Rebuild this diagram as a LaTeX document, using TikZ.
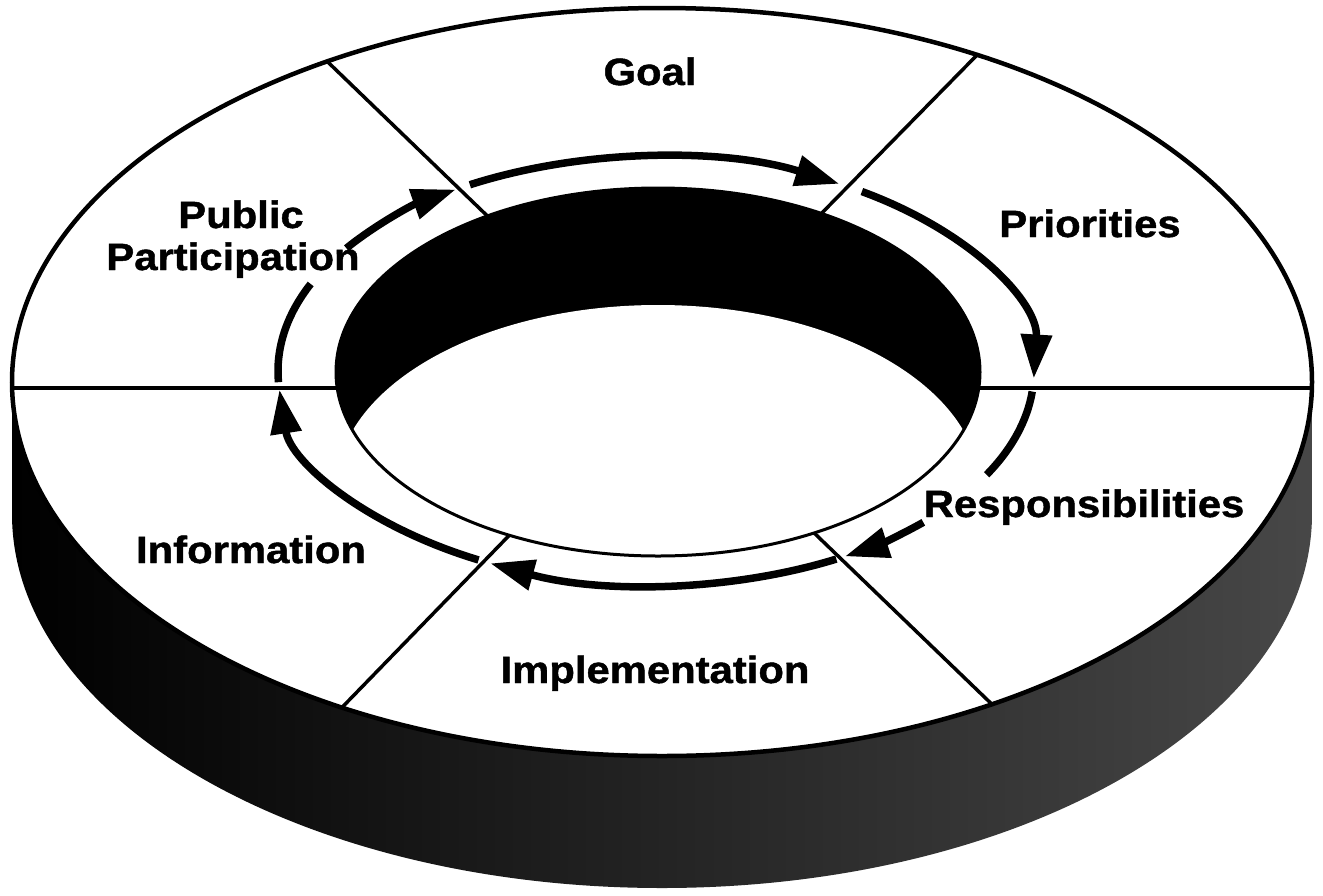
\documentclass[tikz,border=0pt]{standalone}
\usepackage{fontspec}
\newfontfamily\labfont[FakeStretch=1.1,FakeBold=1.2]{Liberation Sans}
\usetikzlibrary{arrows.meta}
\begin{document}
\begin{tikzpicture}[x=1pt,y=-1pt,
  lab/.style={font=\labfont\bfseries\fontsize{38}{42}\selectfont, inner sep=0pt, anchor=base},
  rim/.style={line width=4.5pt},
  divider/.style={line width=3.5pt},
  flow/.style={line width=7.5pt},
  flowhead/.style={line width=7.5pt,-{Triangle[length=44pt,width=30pt]}}]
\useasboundingbox (0,0) rectangle (1323,895);
% outer side wall
\shade[left color=black, middle color=black, right color=black!72]
  (12,382) arc[start angle=-180,end angle=-360,x radius=650,y radius=374]
  -- (1312,514) arc[start angle=0,end angle=180,x radius=650,y radius=374] -- cycle;
% top face
\draw[rim, fill=white] (662,382) ellipse[x radius=650, y radius=374];
% hole
\begin{scope}
  \clip (658,372) ellipse[x radius=322,y radius=184];
  \shade[left color=black, middle color=black!88, right color=black] (330,180) rectangle (985,570);
  \fill[white] (658,489) ellipse[x radius=322,y radius=184];
\end{scope}
\draw[line width=3pt] (658,372) ellipse[x radius=322,y radius=184];
% divider end points
\coordinate (oL) at (12,388);   \coordinate (hL) at (337,388);
\coordinate (oR) at (1312,388); \coordinate (hR) at (979,388);
\coordinate (oTL) at ({662+650*cos(121)},{382-374*sin(121)});
\coordinate (hTL) at ({658+322*cos(122)},{372-184*sin(122)});
\coordinate (oTR) at ({662+650*cos(61)},{382-374*sin(61)});
\coordinate (hTR) at ({658+322*cos(59.5)},{372-184*sin(59.5)});
\coordinate (oBL) at ({662+650*cos(-119.5)},{382-374*sin(-119.5)});
\coordinate (hBL) at ({658+322*cos(-117.5)},{372-184*sin(-117.5)});
\coordinate (oBR) at ({662+650*cos(-59.5)},{382-374*sin(-59.5)});
\coordinate (hBR) at ({658+322*cos(-61)},{372-184*sin(-61)});
\draw[divider] (oL) -- (hL);
\draw[divider] (hR) -- (oR);
\draw[divider] (oTL) -- (hTL);
\draw[divider] (oTR) -- (hTR);
\draw[divider] (oBL) -- (hBL);
\draw[divider] (oBR) -- (hBR);
% circulating arrows
\coordinate (a1a) at ({656+378*cos(183)},{371-214*sin(183)});
\coordinate (a1b) at ({656+378*cos(145)},{371-214*sin(145)});
\coordinate (a2) at ({656+378*cos(119.5)},{371-214*sin(119.5)});
\coordinate (a3) at ({656+378*cos(57)},{371-214*sin(57)});
\coordinate (a4a) at ({656+378*cos(-5.5)},{371-214*sin(-5.5)});
\coordinate (a4b) at ({656+378*cos(-45)},{371-214*sin(-45)});
\coordinate (a5) at ({656+378*cos(-61.5)},{371-214*sin(-61.5)});
\coordinate (a6) at ({656+378*cos(-118)},{371-214*sin(-118)});
\draw[flow] (a1a) arc[start angle=-183,end angle=-156,x radius=378,y radius=214];
\draw[flowhead] (a1b) arc[start angle=-145,end angle=-122,x radius=378,y radius=214];
\draw[flowhead] (a2) arc[start angle=-119.5,end angle=-61,x radius=378,y radius=214];
\draw[flowhead] (a3) arc[start angle=-57,end angle=2,x radius=378,y radius=214];
\draw[flow] (a4a) arc[start angle=5.5,end angle=29,x radius=378,y radius=214];
\draw[flowhead] (a4b) arc[start angle=45,end angle=60,x radius=378,y radius=214];
\draw[flowhead] (a5) arc[start angle=61.5,end angle=116,x radius=378,y radius=214];
\draw[flowhead] (a6) arc[start angle=118,end angle=175,x radius=378,y radius=214];
% labels
\node[lab] (goal) at (650,85) {Goal};
\node[lab] (prio) at (1090,237) {Priorities};
\node[lab] (pub1) at (241,228) {Public};
\node[lab] (pub2) at (233,270) {Participation};
\node[lab] (info) at (251,563) {Information};
\node[lab] (impl) at (655,683) {Implementation};
\node[lab] (resp) at (1084,517) {Responsibilities};
\end{tikzpicture}
\end{document}
